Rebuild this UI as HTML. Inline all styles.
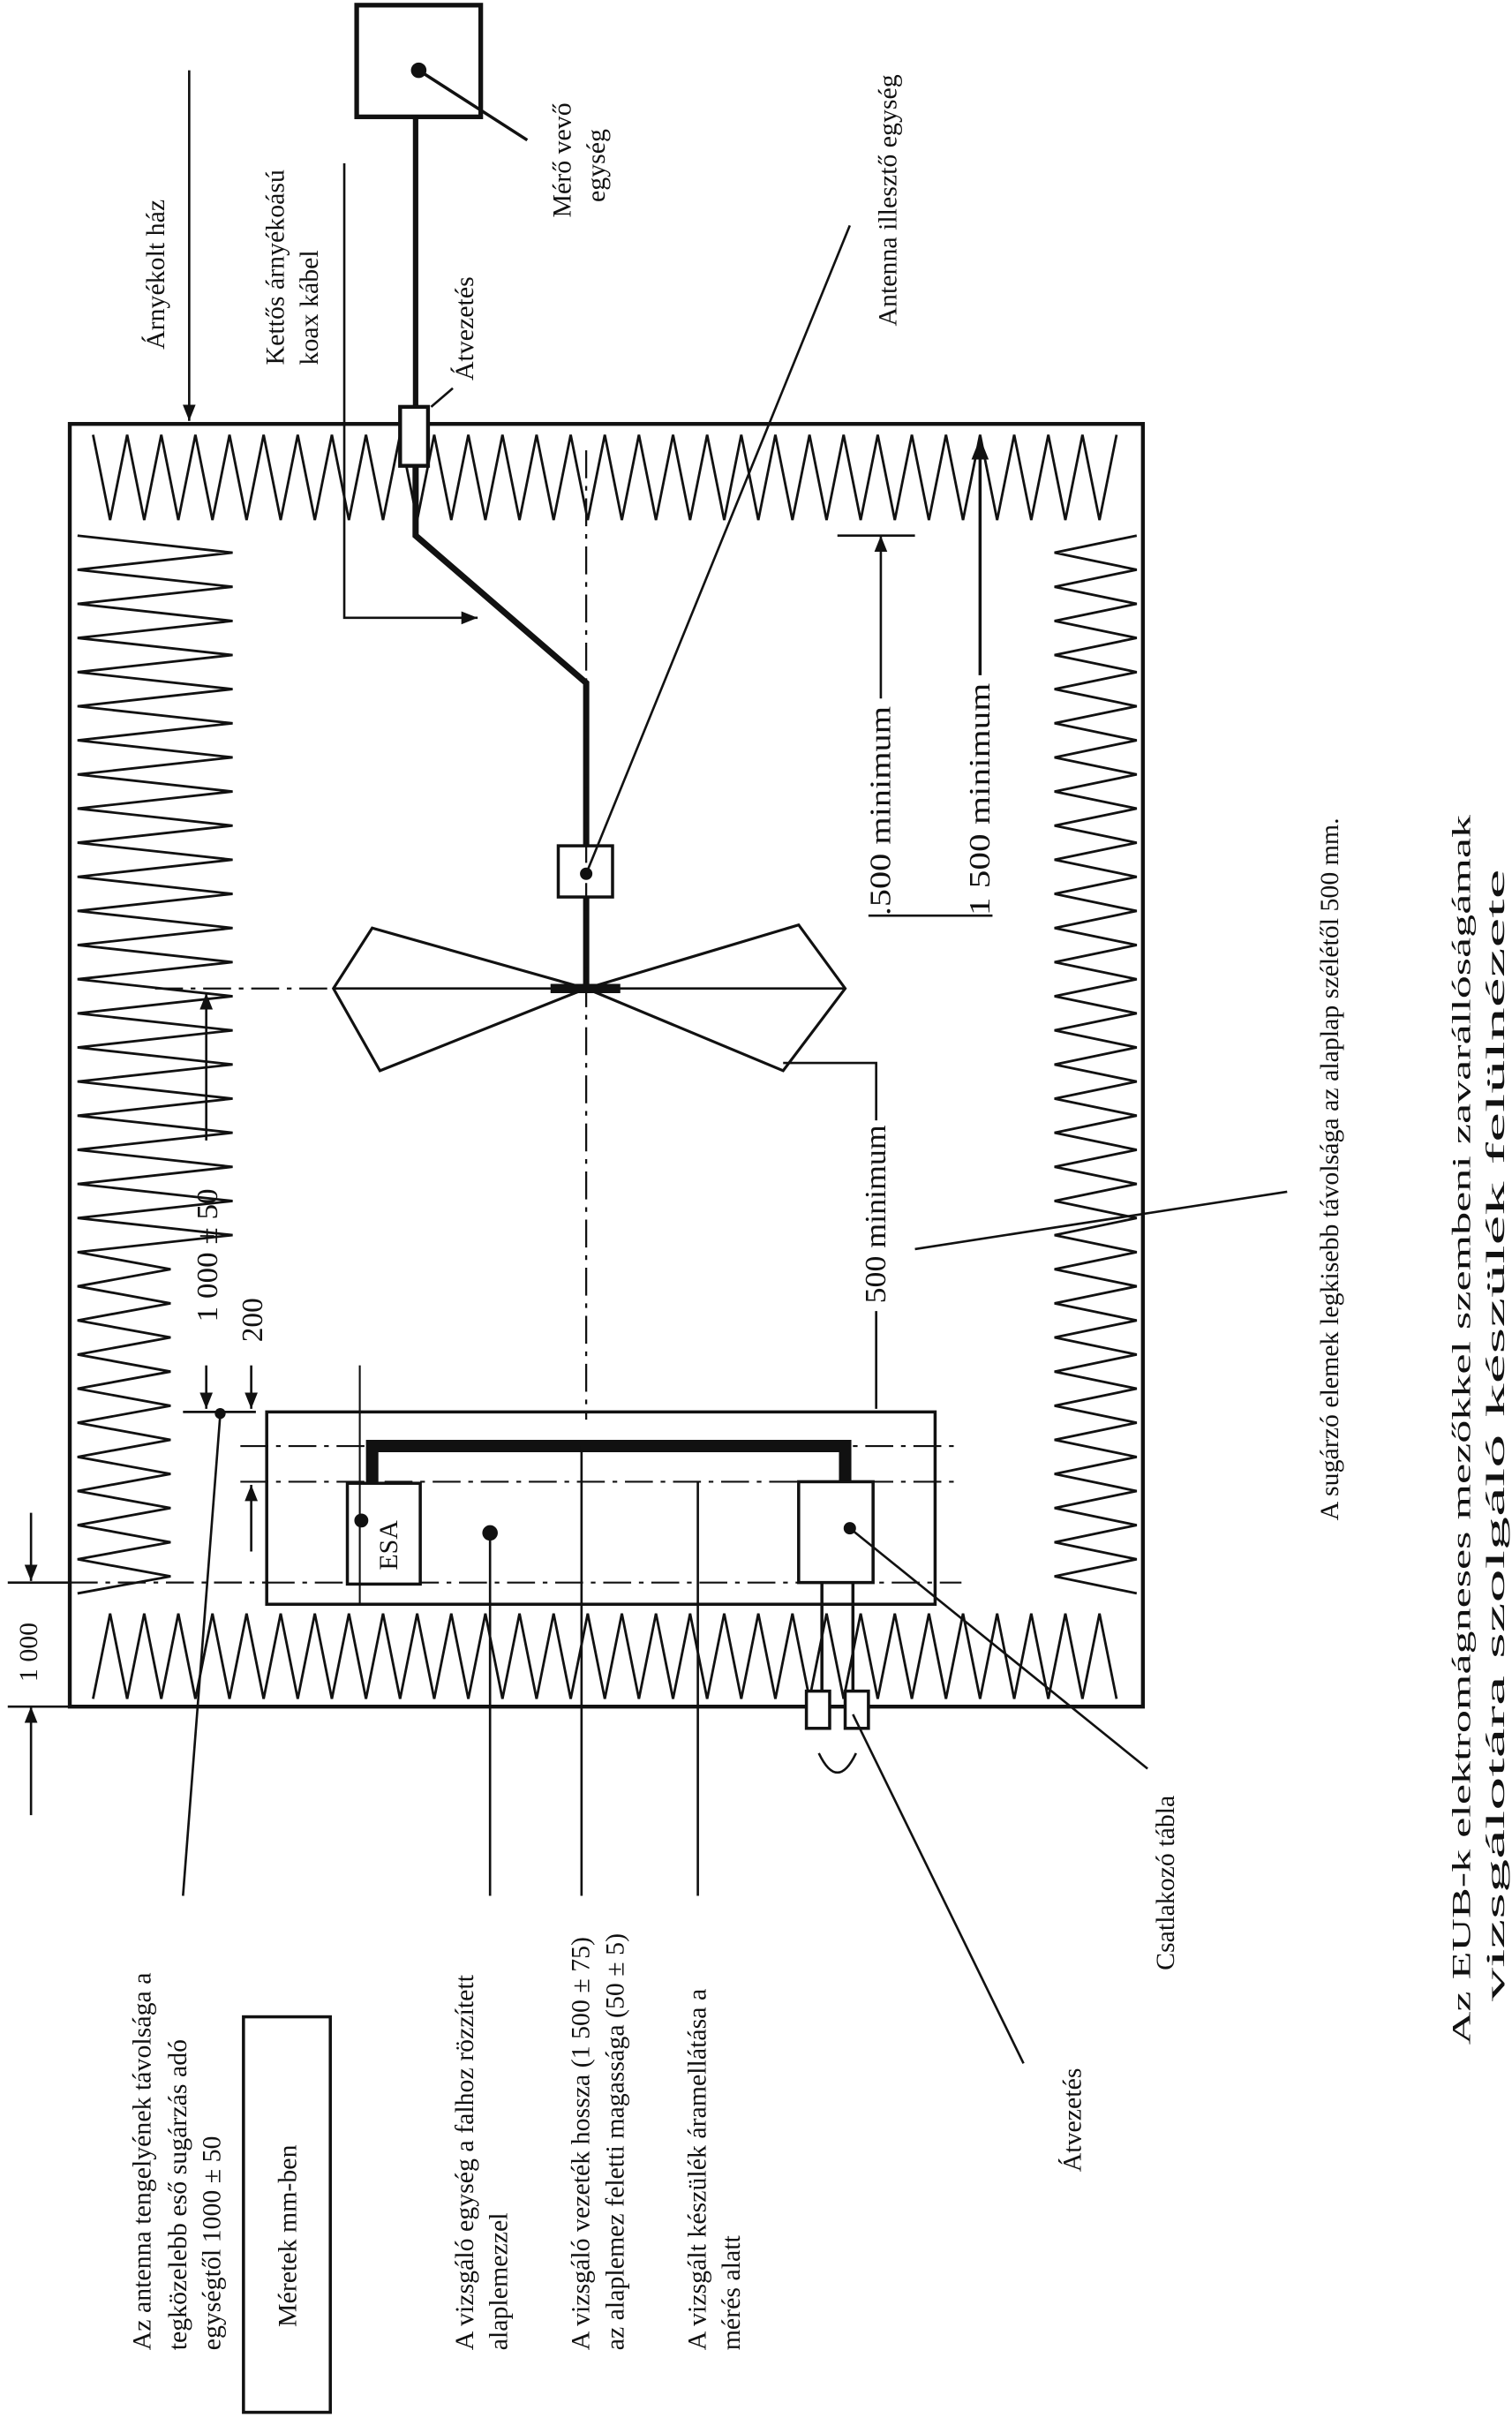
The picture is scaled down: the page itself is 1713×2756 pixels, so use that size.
<!DOCTYPE html>
<html><head><meta charset="utf-8"><style>
html,body{margin:0;padding:0;background:#fff}
svg{display:block}
text{font-family:"Liberation Serif",serif;font-size:17px;fill:#111}
</style></head><body>
<svg id="s" xmlns="http://www.w3.org/2000/svg" width="1713" height="2756" viewBox="0 0 975 1568">
<defs>
<marker id="a" viewBox="0 0 10 10" refX="10" refY="5" markerWidth="7" markerHeight="7" orient="auto-start-reverse"><path d="M0,1 L10,5 L0,9 z" fill="#111"/></marker>
</defs>
<g stroke="#111" fill="none" stroke-width="2">
<rect x="45" y="273" width="692" height="827" stroke-width="2.5"/>
<g id="zz" stroke-width="1.6"></g>
<rect x="230" y="3" width="80" height="72" stroke-width="3"/>
<circle cx="270" cy="45" r="4" fill="#111"/>
<line x1="270" y1="45" x2="340" y2="90"/>
<line x1="268" y1="75" x2="268" y2="262" stroke-width="3.5"/>
<rect x="258" y="262" width="18" height="38" stroke-width="2.5" fill="#fff"/>
<polyline points="268,300 268,345 378,440 378,545" stroke-width="4"/>
<rect x="360" y="545" width="35" height="33" stroke-width="2" fill="#fff"/>
<circle cx="378" cy="563" r="3" fill="#111"/>
<line x1="378" y1="578" x2="378" y2="637" stroke-width="4"/>
<line x1="378" y1="290" x2="378" y2="915" stroke-width="1.3" stroke-dasharray="18,5,3,5"/>
<line x1="100" y1="637" x2="215" y2="637" stroke-width="1.3" stroke-dasharray="18,5,3,5"/>
<polygon points="378,637 240,598 215,637 245,690" stroke-width="1.8"/>
<line x1="378" y1="637" x2="215" y2="637" stroke-width="1.5"/>
<polygon points="378,637 515,596 545,637 505,690" stroke-width="1.8"/>
<line x1="378" y1="637" x2="545" y2="637" stroke-width="1.5"/>
<line x1="355" y1="637" x2="400" y2="637" stroke-width="6"/>
<!-- dims -->
<line x1="133" y1="735" x2="133" y2="640" marker-end="url(#a)" stroke-width="1.5"/>
<line x1="133" y1="880" x2="133" y2="908" marker-end="url(#a)" stroke-width="1.5"/>
<line x1="162" y1="880" x2="162" y2="908" marker-end="url(#a)" stroke-width="1.5"/>
<line x1="162" y1="1000" x2="162" y2="957" marker-end="url(#a)" stroke-width="1.5"/>
<line x1="118" y1="910" x2="165" y2="910" stroke-width="1.5"/>
<circle cx="142" cy="911" r="2.5" fill="#111"/>
<line x1="568" y1="345" x2="568" y2="450" marker-start="url(#a)" stroke-width="1.5"/>
<line x1="540" y1="345" x2="590" y2="345" stroke-width="1.5"/>
<line x1="560" y1="590" x2="640" y2="590" stroke-width="1.5"/>
<line x1="632" y1="282" x2="632" y2="435" marker-start="url(#a)" stroke-width="2"/>
<polyline points="505,685 565,685 565,722" stroke-width="1.5"/>
<line x1="565" y1="845" x2="565" y2="908" stroke-width="1.5"/>
<line x1="590" y1="805" x2="830" y2="768" stroke-width="1.5"/>
<line x1="20" y1="975" x2="20" y2="1019" marker-end="url(#a)" stroke-width="1.5"/>
<line x1="20" y1="1100" x2="20" y2="1170" marker-start="url(#a)" stroke-width="1.5"/>
<line x1="5" y1="1020" x2="45" y2="1020" stroke-width="1.5"/>
<line x1="45" y1="1020" x2="172" y2="1020" stroke-width="1.3" stroke-dasharray="18,5,3,5"/>
<line x1="5" y1="1100" x2="45" y2="1100" stroke-width="1.5"/>
<!-- table -->
<rect x="172" y="910" width="431" height="124" stroke-width="2"/>
<line x1="155" y1="932" x2="620" y2="932" stroke-width="1.2" stroke-dasharray="18,5,3,5"/>
<line x1="155" y1="955" x2="620" y2="955" stroke-width="1.2" stroke-dasharray="18,5,3,5"/>
<line x1="172" y1="1020" x2="620" y2="1020" stroke-width="1.2" stroke-dasharray="18,5,3,5"/>
<rect x="224" y="956" width="47" height="65" fill="#fff"/>
<line x1="232" y1="880" x2="232" y2="1034" stroke-width="1.2"/>
<circle cx="233" cy="980" r="3.5" fill="#111"/>
<polyline points="240,956 240,932 545,932 545,958" stroke-width="8"/>
<rect x="515" y="955" width="48" height="65" fill="#fff"/>
<circle cx="548" cy="985" r="3" fill="#111"/>
<line x1="530" y1="1020" x2="530" y2="1090"/>
<line x1="550" y1="1020" x2="550" y2="1090"/>
<rect x="520" y="1090" width="15" height="24" fill="#fff"/>
<rect x="545" y="1090" width="15" height="24" fill="#fff"/>
<path d="M528,1130 Q540,1155 552,1130" stroke-width="1.5"/>
<!-- leaders -->
<line x1="122" y1="45" x2="122" y2="271" marker-end="url(#a)" stroke-width="1.5"/>
<polyline points="222,105 222,398 308,398" marker-end="url(#a)" stroke-width="1.5"/>
<line x1="278" y1="262" x2="292" y2="250" stroke-width="1.5"/>
<line x1="548" y1="145" x2="378" y2="563" stroke-width="1.5"/>
<line x1="118" y1="1222" x2="142" y2="912" stroke-width="1.5"/>
<line x1="316" y1="1222" x2="316" y2="988" stroke-width="1.5"/>
<circle cx="316" cy="988" r="4" fill="#111"/>
<line x1="375" y1="1222" x2="375" y2="932" stroke-width="1.5"/>
<line x1="450" y1="1222" x2="450" y2="955" stroke-width="1.5"/>
<line x1="660" y1="1330" x2="550" y2="1105" stroke-width="1.5"/>
<line x1="740" y1="1140" x2="548" y2="985" stroke-width="1.5"/>
<rect x="157" y="1300" width="56" height="255" stroke-width="2"/>
</g>
<g>
<text transform="translate(106,225) rotate(-90)">Árnyékolt ház</text>
<text transform="translate(183,235) rotate(-90)">Kettős árnyékoású</text>
<text transform="translate(205,235) rotate(-90)">koax kábel</text>
<text transform="translate(305,245) rotate(-90)">Átvezetés</text>
<text transform="translate(368,140) rotate(-90)">Mérő vevő</text>
<text transform="translate(390,130) rotate(-90)">egység</text>
<text transform="translate(578,210) rotate(-90)">Antenna illesztő egység</text>
<text transform="translate(574,590) rotate(-90)" style="font-size:19px" textLength="135" lengthAdjust="spacingAndGlyphs">.500 minimum</text>
<text transform="translate(638,590) rotate(-90)" style="font-size:19px" textLength="150" lengthAdjust="spacingAndGlyphs">1 500 minimum</text>
<text transform="translate(571,840) rotate(-90)" style="font-size:19px" textLength="115" lengthAdjust="spacingAndGlyphs">500 minimum</text>
<text transform="translate(140,852) rotate(-90)" style="font-size:19px" textLength="86" lengthAdjust="spacingAndGlyphs">1 000 ± 50</text>
<text transform="translate(169,865) rotate(-90)" style="font-size:19px">200</text>
<text transform="translate(24,1084) rotate(-90)">1 000</text>
<text transform="translate(256,1012) rotate(-90)">ESA</text>
<text transform="translate(863,980) rotate(-90)">A sugárzó elemek legkisebb távolsága az alaplap szélétől 500 mm.</text>
<text transform="translate(948,1318) rotate(-90)" textLength="793" lengthAdjust="spacingAndGlyphs">Az EUB-k elektromágneses mezőkkel szembeni zavarállóságámak</text>
<text transform="translate(970,1290) rotate(-90)" textLength="730" lengthAdjust="spacingAndGlyphs">vizsgálotára szolgáló készülék felülnézete</text>
<text transform="translate(97,1515) rotate(-90)">Az antenna tengelyének távolsága a</text>
<text transform="translate(120,1515) rotate(-90)">tegközelebb eső sugárzás adó</text>
<text transform="translate(142,1515) rotate(-90)">egységtől 1000 ± 50</text>
<text transform="translate(305,1515) rotate(-90)">A vizsgáló egység a falhoz rözzített</text>
<text transform="translate(327,1515) rotate(-90)">alaplemezzel</text>
<text transform="translate(380,1515) rotate(-90)">A vizsgáló vezeték hossza (1 500 ± 75)</text>
<text transform="translate(402,1515) rotate(-90)">az alaplemez feletti magassága (50 ± 5)</text>
<text transform="translate(455,1515) rotate(-90)">A vizsgált készülék áramellátása a</text>
<text transform="translate(477,1515) rotate(-90)">mérés alatt</text>
<text transform="translate(697,1400) rotate(-90)">Átvezetés</text>
<text transform="translate(757,1270) rotate(-90)">Csatlakozó tábla</text>
<text transform="translate(191,1500) rotate(-90)">Méretek mm-ben</text>
</g>
<script>
(function(){
var g=document.getElementById('zz'),ns='http://www.w3.org/2000/svg';
function pl(p){var e=document.createElementNS(ns,'polyline');e.setAttribute('points',p.join(' '));g.appendChild(e);}
var p=[],x,i,y;
p=[];i=0;for(x=60;x<=725;x+=11){p.push(x+','+(i%2?335:280));i++;}pl(p);
p=[];i=0;for(x=60;x<=725;x+=11){p.push(x+','+(i%2?1040:1095));i++;}pl(p);
p=[];i=0;for(y=345;y<=1030;y+=11){var d=(y>340&&y<800)?150:110;p.push((i%2?d:50)+','+y);i++;}pl(p);
p=[];i=0;for(y=345;y<=1030;y+=11){p.push((i%2?680:733)+','+y);i++;}pl(p);
})();
</script>
</svg>
</body></html>
